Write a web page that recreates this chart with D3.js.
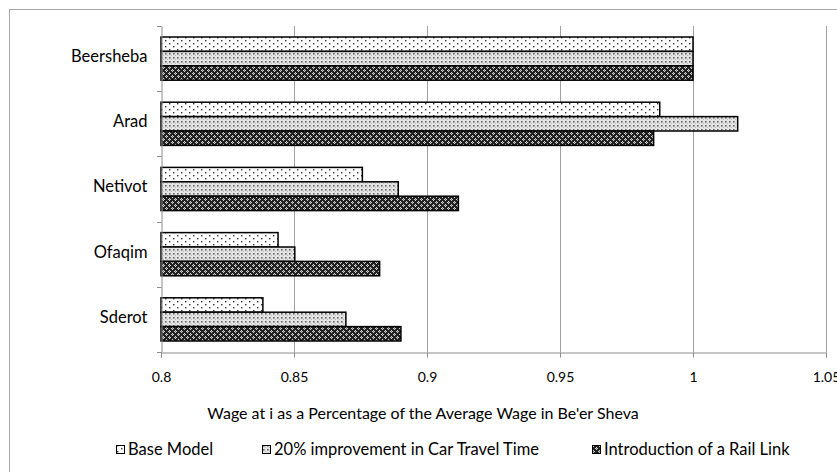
<!DOCTYPE html>
<html>
<head>
<meta charset="utf-8">
<script src="https://cdn.jsdelivr.net/npm/d3@7"></script>
<style>
  html, body { margin: 0; padding: 0; background: #fff; }
  svg { display: block; }
  svg text { font-family: Lato, "Open Sans", sans-serif; fill: #000; }
</style>
</head>
<body>
<svg id="chart" width="837" height="472"></svg>
<script>
// Towns (top to bottom) and wage ratios for each scenario
const towns = ["Beersheba", "Arad", "Netivot", "Ofaqim", "Sderot"];
const seriesNames = ["Base Model", "20% improvement in Car Travel Time", "Introduction of a Rail Link"];
const baseModel = [1.0, 0.9875, 0.8757, 0.8440, 0.8383];
const carImprovement = [1.0, 1.0168, 0.8892, 0.8503, 0.8695];
const railLink = [1.0, 0.9852, 0.9118, 0.8822, 0.8902];
const xTicks = [0.8, 0.85, 0.9, 0.95, 1, 1.05];
const xTitle = "Wage at i as a Percentage of the Average Wage in Be'er Sheva";

const series = [baseModel, carImprovement, railLink];
const svg = d3.select("#chart");
const FONT = "Lato, 'Open Sans', sans-serif";
const plot = { left: 161, right: 826, top: 26, bottom: 352 };

// Fill patterns for the three scenarios
const defs = svg.append("defs");
const pBase = defs.append("pattern").attr("id", "pat0").attr("patternUnits", "userSpaceOnUse")
  .attr("width", 8).attr("height", 6);
pBase.append("rect").attr("width", 8).attr("height", 6).attr("fill", "#fff");
[[1, 1], [5, 4]].forEach(([px, py]) =>
  pBase.append("rect").attr("x", px).attr("y", py).attr("width", 1.4).attr("height", 1.4).attr("fill", "#333"));

const pCar = defs.append("pattern").attr("id", "pat1").attr("patternUnits", "userSpaceOnUse")
  .attr("width", 4).attr("height", 4);
pCar.append("rect").attr("width", 4).attr("height", 4).attr("fill", "#e4e4e4");
pCar.append("rect").attr("x", 1).attr("y", 1).attr("width", 1.6).attr("height", 1.6).attr("fill", "#666");
pCar.append("rect").attr("x", 3).attr("y", 3).attr("width", 1).attr("height", 1).attr("fill", "#bbb");

const pRail = defs.append("pattern").attr("id", "pat2").attr("patternUnits", "userSpaceOnUse")
  .attr("width", 6).attr("height", 6);
pRail.append("rect").attr("width", 6).attr("height", 6).attr("fill", "#222");
[[1, 0], [0, 1], [2, 1], [1, 2], [4, 3], [3, 4], [5, 4], [4, 5]].forEach(([px, py]) =>
  pRail.append("rect").attr("x", px).attr("y", py).attr("width", 1).attr("height", 1).attr("fill", "#cfcfcf"));
[[1, 1], [4, 4]].forEach(([px, py]) =>
  pRail.append("rect").attr("x", px).attr("y", py).attr("width", 1).attr("height", 1).attr("fill", "#777"));

// Outer frame (runs off the right and bottom edges)
svg.append("rect").attr("x", 9.5).attr("y", 9.5).attr("width", 840).attr("height", 480)
  .attr("fill", "none").attr("stroke", "#a6a6a6").attr("stroke-width", 1);

const x = d3.scaleLinear().domain([0.8, 1.05]).range([plot.left, plot.right]);
const y = d3.scaleBand().domain(towns).range([plot.top, plot.bottom]);
const groupPad = 11;
const inner = d3.scaleBand().domain(d3.range(3)).range([groupPad, y.bandwidth() - groupPad]);

// Vertical gridlines
svg.append("g").selectAll("line").data(xTicks.slice(1)).join("line")
  .attr("x1", d => Math.round(x(d)) + 0.5).attr("x2", d => Math.round(x(d)) + 0.5)
  .attr("y1", plot.top).attr("y2", plot.bottom)
  .attr("stroke", "#a0a0a0").attr("stroke-width", 1);

// Bars
towns.forEach((t, i) => {
  series.forEach((s, k) => {
    svg.append("rect")
      .attr("x", x(0.8))
      .attr("y", y(t) + inner(k))
      .attr("width", x(s[i]) - x(0.8))
      .attr("height", inner.bandwidth())
      .attr("fill", `url(#pat${k})`)
      .attr("stroke", "#000").attr("stroke-width", 1.5);
  });
});

// X axis
const xAxis = d3.axisBottom(x).tickValues(xTicks).tickSize(5).tickPadding(15)
  .tickFormat(d => String(+d.toFixed(2)));
const gx = svg.append("g").attr("transform", `translate(0,${plot.bottom + 0.5})`).call(xAxis)
  .attr("font-family", FONT);
gx.select(".domain").attr("stroke", "#8c8c8c");
gx.selectAll(".tick line").attr("stroke", "#8c8c8c");
gx.selectAll(".tick text").attr("font-size", 14).attr("fill", "#000");

// Y axis (category labels)
const yAxis = d3.axisLeft(y).tickSize(0).tickPadding(14);
const gy = svg.append("g").attr("transform", `translate(${plot.left + 0.5},0)`).call(yAxis)
  .attr("font-family", FONT);
gy.select(".domain").attr("stroke", "#8c8c8c");
gy.selectAll(".tick text").attr("font-size", 16.5).attr("fill", "#000").attr("dy", "0.2em");
// Category boundary ticks
const bounds = towns.map(t => y(t)).concat([plot.bottom]);
svg.append("g").selectAll("line").data(bounds).join("line")
  .attr("x1", plot.left - 4).attr("x2", plot.left + 0.5)
  .attr("y1", d => Math.round(d) + 0.5).attr("y2", d => Math.round(d) + 0.5)
  .attr("stroke", "#8c8c8c");

// Axis title
svg.append("text").attr("x", 423).attr("y", 419).attr("text-anchor", "middle")
  .attr("font-size", 16).text(xTitle);

// Legend
const legendX = [116, 262, 592];
seriesNames.forEach((n, k) => {
  const g = svg.append("g").attr("transform", `translate(${legendX[k]},0)`);
  g.append("rect").attr("x", 0.5).attr("y", 445.5).attr("width", 8).attr("height", 8)
    .attr("fill", `url(#pat${k})`).attr("stroke", "#000").attr("stroke-width", 1);
  g.append("text").attr("x", 12).attr("y", 455).attr("font-size", 16.5).text(n);
});
</script>
</body>
</html>
